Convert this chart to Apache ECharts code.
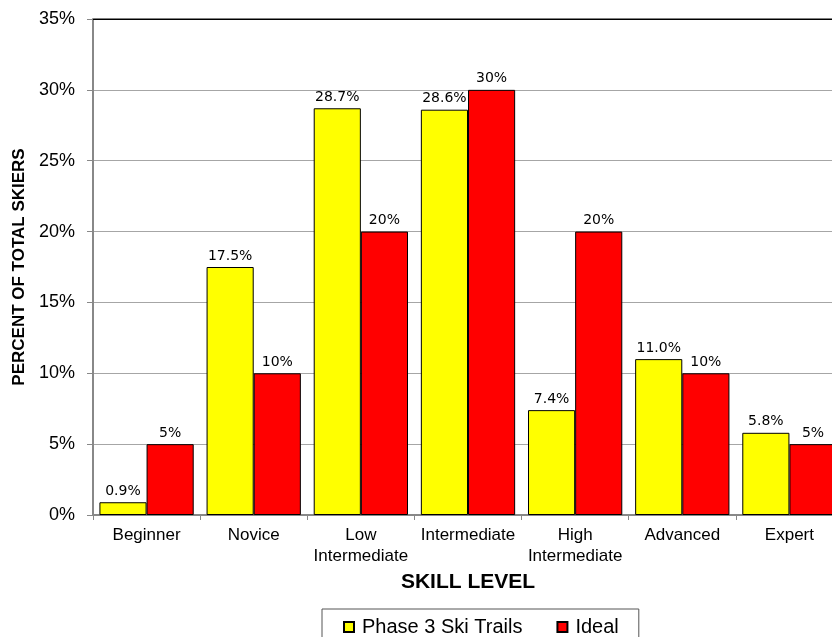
<!DOCTYPE html>
<html>
<head>
<meta charset="utf-8">
<script src="https://cdn.jsdelivr.net/npm/echarts@6/dist/echarts.min.js"></script>
<style>html,body{margin:0;padding:0;background:#fff;}#c{width:832px;height:637px;}</style>
</head>
<body>
<div id="c"></div>
<script>
var categories = ['Beginner', 'Novice', 'Low\nIntermediate', 'Intermediate', 'High\nIntermediate', 'Advanced', 'Expert'];
var phase3 = [0.9, 17.5, 28.7, 28.6, 7.4, 11.0, 5.8];
var ideal = [5, 10, 20, 30, 20, 10, 5];
var yTicks = [0, 5, 10, 15, 20, 25, 30, 35];

var chart = echarts.init(document.getElementById('c'), null, {renderer: 'canvas'});
var labelStyle = {show: true, position: 'top', distance: 4, color: '#000', fontFamily: 'DejaVu Sans', fontSize: 14};
chart.setOption({
  animation: false,
  backgroundColor: '#fff',
  grid: {left: 93, top: 19, right: -11, bottom: 122, outerBoundsMode: 'none', containLabel: false,
    show: true, borderColor: '#000', borderWidth: 1, backgroundColor: 'transparent'},
  legend: {
    left: 322, top: 609,
    padding: [8, 20, 10, 21],
    borderColor: '#555', borderWidth: 1,
    itemWidth: 10, itemHeight: 10, itemGap: 34,
    icon: 'rect',
    textStyle: {fontFamily: 'Arial, Liberation Sans', fontSize: 20, color: '#000', padding: [0, 0, 0, 3]},
    data: ['Phase 3 Ski Trails', 'Ideal']
  },
  xAxis: {
    type: 'category',
    data: categories,
    name: 'SKILL LEVEL',
    nameLocation: 'middle',
    nameGap: 56,
    nameTextStyle: {fontFamily: 'Arial, Liberation Sans', fontWeight: 'bold', fontSize: 21, color: '#000'},
    axisLine: {lineStyle: {color: '#888', width: 2}},
    axisTick: {show: true, length: 5, lineStyle: {color: '#888', width: 1}},
    axisLabel: {fontFamily: 'Arial, Liberation Sans', fontSize: 17, color: '#000', margin: 10, lineHeight: 21, interval: 0},
    splitLine: {show: false}
  },
  yAxis: {
    type: 'value',
    min: 0, max: 35, interval: 5,
    name: 'PERCENT OF TOTAL SKIERS',
    nameLocation: 'middle',
    nameGap: 61,
    nameRotate: 90,
    nameTextStyle: {fontFamily: 'Arial, Liberation Sans', fontWeight: 'bold', fontSize: 17, color: '#000'},
    axisLine: {show: true, lineStyle: {color: '#888', width: 2}},
    axisTick: {show: true, length: 6, lineStyle: {color: '#888'}},
    axisLabel: {fontFamily: 'Arial, Liberation Sans', fontSize: 18, color: '#000', margin: 18,
      formatter: function (v) { return yTicks.indexOf(v) >= 0 ? v + '%' : ''; }},
    splitLine: {show: true, lineStyle: {color: '#a6a6a6', width: 1}}
  },
  series: [
    {
      name: 'Phase 3 Ski Trails', type: 'bar', data: phase3,
      barGap: '0%', barCategoryGap: '12%',
      itemStyle: {color: '#ffff00', borderColor: '#000', borderWidth: 1},
      label: Object.assign({}, labelStyle, {formatter: function (p) { return p.value.toFixed(1) + '%'; }}),
      markLine: {silent: true, symbol: 'none', label: {show: false}, lineStyle: {color: '#000', type: 'solid', width: 1},
        data: [{yAxis: yTicks[yTicks.length - 1]}]}
    },
    {
      name: 'Ideal', type: 'bar', data: ideal,
      barGap: '0%', barCategoryGap: '12%',
      itemStyle: {color: '#ff0000', borderColor: '#000', borderWidth: 1},
      label: Object.assign({}, labelStyle, {formatter: function (p) { return p.value + '%'; }})
    }
  ]
});
</script>
</body>
</html>
